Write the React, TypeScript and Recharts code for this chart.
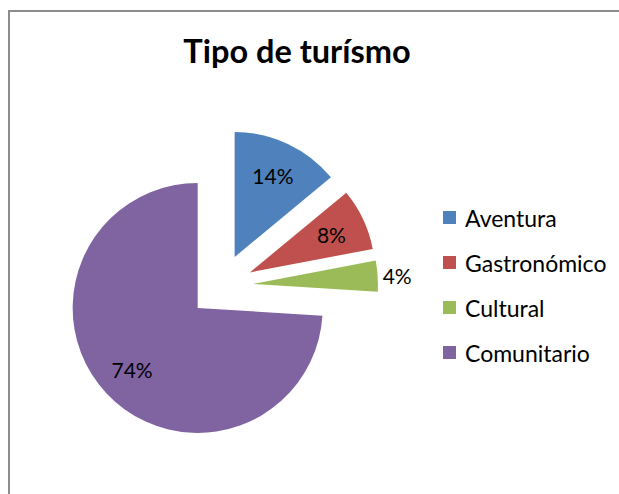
import React from "react";
import { PieChart, Pie, Cell } from "recharts";

const categories = ["Aventura", "Gastronómico", "Cultural", "Comunitario"];
const values = [14, 8, 4, 74];
const colors = ["#4F81BD", "#C0504D", "#9BBB59", "#8064A2"];
const title = "Tipo de turísmo";

const data = categories.map((name, i) => ({ name, value: values[i] }));

const CX = 211;
const CY = 274;
const R = 125;
const EXPLODE = 32;
const FONT = "Lato, 'Open Sans', sans-serif";

const total = values.reduce((a, b) => a + b, 0);
const mids = values.map((v, i) => {
  const before = values.slice(0, i).reduce((a, b) => a + b, 0);
  return ((before + v / 2) / total) * 360; // clockwise from 12 o'clock
});

const RAD = Math.PI / 180;

function makeLabel(target: number) {
  return (props: any) => {
    const { cx, cy, midAngle, outerRadius, percent, index } = props;
    if (index !== target) return null;
    const small = percent < 0.05;
    const r = small ? outerRadius + 5 : outerRadius * 0.72;
    const x = cx + r * Math.cos(-midAngle * RAD);
    const y = cy + r * Math.sin(-midAngle * RAD);
    return (
      <text
        x={x}
        y={y}
        fill="#000"
        fontSize={21}
        fontFamily={FONT}
        textAnchor={small ? "start" : "middle"}
        dominantBaseline="central"
      >
        {`${Math.round(percent * 100)}%`}
      </text>
    );
  };
}

export default function App() {
  return (
    <div
      style={{
        position: "fixed",
        left: 0,
        top: 0,
        width: 619,
        height: 494,
        overflow: "hidden",
        background: "#fff",
      }}
    >
      <style>{`html,body{overflow:hidden;}`}</style>
      <div
        style={{
          position: "absolute",
          left: 8,
          top: 10,
          width: 640,
          height: 2,
          background: "#8c8c8c",
        }}
      />
      <div
        style={{
          position: "absolute",
          left: 8,
          top: 10,
          width: 2,
          height: 500,
          background: "#8c8c8c",
        }}
      />
      <div
        style={{
          position: "absolute",
          left: 10,
          top: 12,
          width: 609,
          height: 482,
          overflow: "hidden",
        }}
      >
        <svg
          width={609}
          height={80}
          style={{ position: "absolute", left: 0, top: 0 }}
        >
          <text
            x={287}
            y={51}
            textAnchor="middle"
            fontFamily={FONT}
            fontWeight="bold"
            fontSize={32.5}
            fill="#000"
          >
            {title}
          </text>
        </svg>
        <PieChart
          width={609}
          height={482}
          margin={{ top: 0, right: 0, bottom: 0, left: 0 }}
          style={{ position: "absolute", left: 0, top: 0 }}
        >
          {categories.map((cat, k) => {
            const dx = EXPLODE * Math.sin(mids[k] * RAD);
            const dy = -EXPLODE * Math.cos(mids[k] * RAD);
            return (
              <Pie
                key={cat}
                data={data}
                dataKey="value"
                nameKey="name"
                cx={CX + dx}
                cy={CY + dy}
                outerRadius={R}
                startAngle={90}
                endAngle={-270}
                stroke="none"
                isAnimationActive={false}
                labelLine={false}
                label={makeLabel(k)}
              >
                {data.map((d, i) => (
                  <Cell key={d.name} fill={i === k ? colors[i] : "transparent"} />
                ))}
              </Pie>
            );
          })}
        </PieChart>
        <div style={{ position: "absolute", left: 433, top: 183 }}>
          {categories.map((c, i) => (
            <div
              key={c}
              style={{
                display: "flex",
                alignItems: "center",
                height: 45,
                fontFamily: FONT,
                fontSize: 23,
                color: "#000",
              }}
            >
              <span
                style={{
                  display: "inline-block",
                  width: 13,
                  height: 13,
                  background: colors[i],
                  marginRight: 9,
                }}
              />
              {c}
            </div>
          ))}
        </div>
      </div>
    </div>
  );
}
